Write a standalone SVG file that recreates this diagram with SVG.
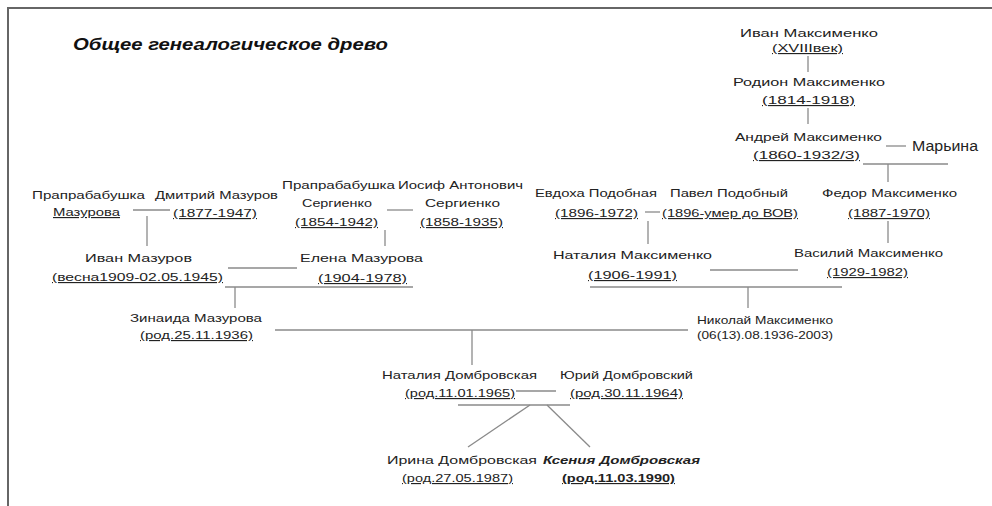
<svg xmlns="http://www.w3.org/2000/svg" width="992" height="506" viewBox="0 0 992 506">
<style>
text{font-family:"Liberation Sans",Arial,sans-serif;font-size:11.5px;fill:#222}
.u{text-decoration:underline}
.t{font-size:17px;font-weight:bold;font-style:italic;fill:#111}
.b{font-weight:bold;font-style:italic}
.bu{font-weight:bold;text-decoration:underline}
.big{font-size:14px}
.c line{stroke:#8a8a8a;stroke-width:1.3}
.frame{stroke:#666;stroke-width:2;fill:none}
</style>
<rect width="992" height="506" fill="#fff"/>
<path class="frame" d="M8,506 V8 H992"/>
<text class="t" x="73" y="50" textLength="315" lengthAdjust="spacingAndGlyphs">Общее генеалогическое древо</text>

<g class="c" id="connectors">
<line x1="808" y1="56" x2="808" y2="72"/>
<line x1="808" y1="108" x2="808" y2="124"/>
<line x1="886" y1="146" x2="906" y2="146"/>
<line x1="863" y1="164" x2="948" y2="164"/>
<line x1="888" y1="164" x2="888" y2="182"/>
<line x1="888" y1="221" x2="888" y2="243"/>
<line x1="133" y1="210" x2="170" y2="210"/>
<line x1="147" y1="216" x2="147" y2="246"/>
<line x1="387" y1="210" x2="413" y2="210"/>
<line x1="385" y1="230" x2="385" y2="246"/>
<line x1="645" y1="212" x2="660" y2="212"/>
<line x1="648" y1="221" x2="648" y2="244"/>
<line x1="228" y1="268" x2="297" y2="268"/>
<line x1="225" y1="287" x2="413" y2="287"/>
<line x1="235" y1="287" x2="235" y2="308"/>
<line x1="710" y1="270" x2="798" y2="270"/>
<line x1="590" y1="287" x2="842" y2="287"/>
<line x1="748" y1="287" x2="748" y2="308"/>
<line x1="275" y1="330" x2="688" y2="330"/>
<line x1="472" y1="330" x2="472" y2="365"/>
<line x1="516" y1="391" x2="556" y2="391"/>
<line x1="458" y1="405" x2="570" y2="405"/>
<line x1="530" y1="405" x2="468" y2="447"/>
<line x1="547" y1="405" x2="590" y2="447"/>
</g>

<g id="ivan-maksimenko"><text x="740" y="37" textLength="138" lengthAdjust="spacingAndGlyphs">Иван Максименко</text><text class="u" x="772" y="52" textLength="71" lengthAdjust="spacingAndGlyphs">(XVIIIвек)</text></g>
<g id="rodion-maksimenko"><text x="733" y="86" textLength="152" lengthAdjust="spacingAndGlyphs">Родион Максименко</text><text class="u" x="762" y="104" textLength="93" lengthAdjust="spacingAndGlyphs">(1814-1918)</text></g>
<g id="andrey-maksimenko"><text x="735" y="141" textLength="147" lengthAdjust="spacingAndGlyphs">Андрей Максименко</text><text class="u" x="753" y="159" textLength="107" lengthAdjust="spacingAndGlyphs">(1860-1932/3)</text></g>
<g id="marina"><text class="big" x="912" y="151" textLength="66" lengthAdjust="spacingAndGlyphs">Марьина</text></g>
<g id="fedor-maksimenko"><text x="822" y="197" textLength="135" lengthAdjust="spacingAndGlyphs">Федор Максименко</text><text class="u" x="848" y="217" textLength="82" lengthAdjust="spacingAndGlyphs">(1887-1970)</text></g>
<g id="vasiliy-maksimenko"><text x="794" y="257" textLength="149" lengthAdjust="spacingAndGlyphs">Василий Максименко</text><text class="u" x="827" y="276" textLength="81" lengthAdjust="spacingAndGlyphs">(1929-1982)</text></g>

<g id="praprababushka-mazurova"><text x="32" y="199" textLength="113" lengthAdjust="spacingAndGlyphs">Прапрабабушка</text><text class="u" x="53" y="216" textLength="67" lengthAdjust="spacingAndGlyphs">Мазурова</text></g>
<g id="dmitriy-mazurov"><text x="155" y="199" textLength="123" lengthAdjust="spacingAndGlyphs">Дмитрий Мазуров</text><text class="u" x="173" y="217" textLength="84" lengthAdjust="spacingAndGlyphs">(1877-1947)</text></g>
<g id="ivan-mazurov"><text x="85" y="262" textLength="107" lengthAdjust="spacingAndGlyphs">Иван Мазуров</text><text class="u" x="52" y="281" textLength="171" lengthAdjust="spacingAndGlyphs">(весна1909-02.05.1945)</text></g>
<g id="praprababushka-sergienko"><text x="282" y="189" textLength="113" lengthAdjust="spacingAndGlyphs">Прапрабабушка</text><text x="302" y="207" textLength="70" lengthAdjust="spacingAndGlyphs">Сергиенко</text><text class="u" x="295" y="226" textLength="83" lengthAdjust="spacingAndGlyphs">(1854-1942)</text></g>
<g id="iosif-sergienko"><text x="398" y="189" textLength="125" lengthAdjust="spacingAndGlyphs">Иосиф Антонович</text><text x="425" y="207" textLength="75" lengthAdjust="spacingAndGlyphs">Сергиенко</text><text class="u" x="420" y="226" textLength="83" lengthAdjust="spacingAndGlyphs">(1858-1935)</text></g>
<g id="elena-mazurova"><text x="300" y="262" textLength="123" lengthAdjust="spacingAndGlyphs">Елена Мазурова</text><text class="u" x="318" y="282" textLength="89" lengthAdjust="spacingAndGlyphs">(1904-1978)</text></g>

<g id="evdoha-podobnaya"><text x="535" y="197" textLength="122" lengthAdjust="spacingAndGlyphs">Евдоха Подобная</text><text class="u" x="555" y="217" textLength="83" lengthAdjust="spacingAndGlyphs">(1896-1972)</text></g>
<g id="pavel-podobny"><text x="670" y="197" textLength="118" lengthAdjust="spacingAndGlyphs">Павел Подобный</text><text class="u" x="662" y="217" textLength="136" lengthAdjust="spacingAndGlyphs">(1896-умер до ВОВ)</text></g>
<g id="natalia-maksimenko"><text x="553" y="259" textLength="159" lengthAdjust="spacingAndGlyphs">Наталия Максименко</text><text class="u" x="588" y="279" textLength="89" lengthAdjust="spacingAndGlyphs">(1906-1991)</text></g>

<g id="zinaida-mazurova"><text x="130" y="322" textLength="132" lengthAdjust="spacingAndGlyphs">Зинаида Мазурова</text><text class="u" x="140" y="339" textLength="113" lengthAdjust="spacingAndGlyphs">(род.25.11.1936)</text></g>
<g id="nikolay-maksimenko"><text x="697" y="324" textLength="136" lengthAdjust="spacingAndGlyphs">Николай Максименко</text><text x="697" y="339" textLength="136" lengthAdjust="spacingAndGlyphs">(06(13).08.1936-2003)</text></g>

<g id="natalia-dombrovskaya"><text x="382" y="379" textLength="155" lengthAdjust="spacingAndGlyphs">Наталия Домбровская</text><text class="u" x="405" y="397" textLength="110" lengthAdjust="spacingAndGlyphs">(род.11.01.1965)</text></g>
<g id="yuriy-dombrovskiy"><text x="560" y="379" textLength="133" lengthAdjust="spacingAndGlyphs">Юрий Домбровский</text><text class="u" x="570" y="397" textLength="113" lengthAdjust="spacingAndGlyphs">(род.30.11.1964)</text></g>
<g id="irina-dombrovskaya"><text x="387" y="464" textLength="150" lengthAdjust="spacingAndGlyphs">Ирина Домбровская</text><text class="u" x="402" y="482" textLength="111" lengthAdjust="spacingAndGlyphs">(род.27.05.1987)</text></g>
<g id="ksenia-dombrovskaya"><text class="b" x="543" y="464" textLength="157" lengthAdjust="spacingAndGlyphs">Ксения Домбровская</text><text class="bu" x="562" y="482" textLength="113" lengthAdjust="spacingAndGlyphs">(род.11.03.1990)</text></g>
</svg>
